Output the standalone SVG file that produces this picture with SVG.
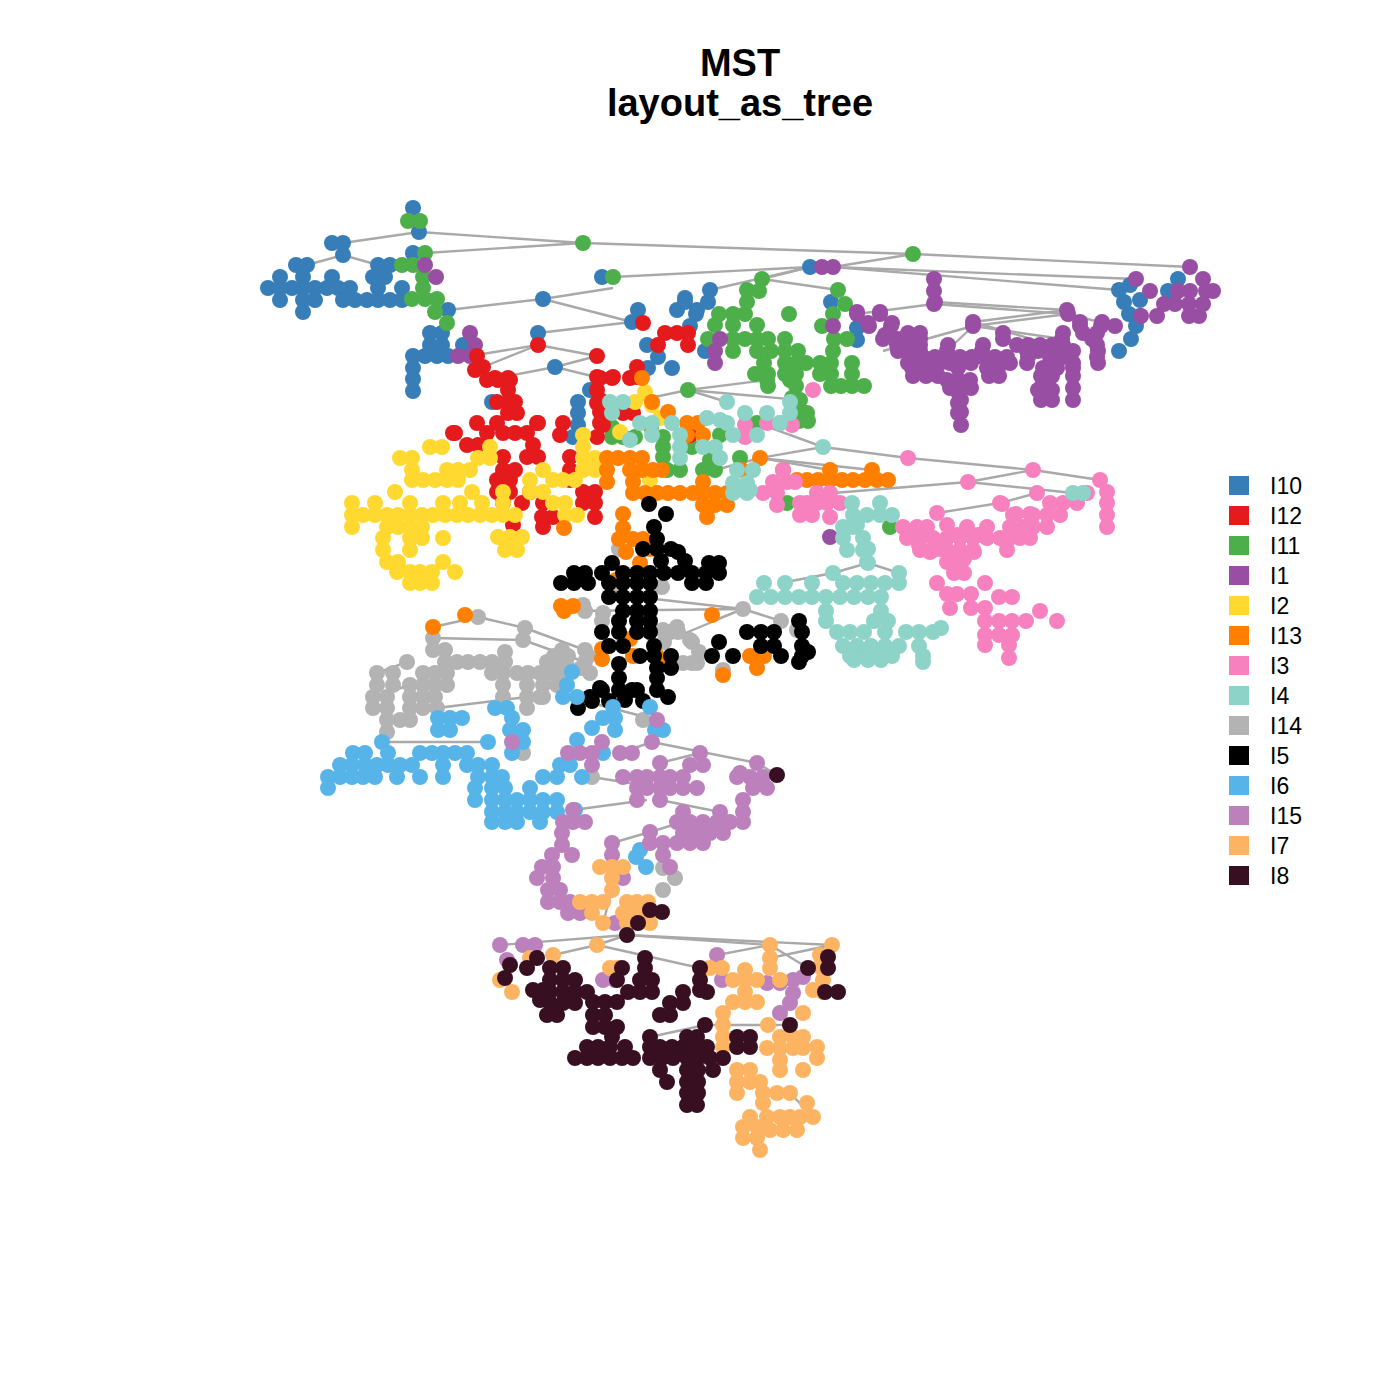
<svg xmlns="http://www.w3.org/2000/svg" width="1400" height="1400" viewBox="0 0 1400 1400">
<style>
text{font-family:"Liberation Sans",Arial,sans-serif;fill:#000}
.t{font-weight:bold;font-size:38px;text-anchor:middle}
.lg{font-size:23px}
#edges line{stroke:#A9A9A9;stroke-width:2.4}
circle{r:8px}
#I10 circle{fill:#377EB8}#I12 circle{fill:#E41A1C}#I11 circle{fill:#4DAF4A}#I1 circle{fill:#984EA3}
#I2 circle{fill:#FFD92F}#I13 circle{fill:#FF7F00}#I3 circle{fill:#F781BF}#I4 circle{fill:#8DD3C7}
#I14 circle{fill:#B3B3B3}#I5 circle{fill:#000}#I6 circle{fill:#56B4E9}#I15 circle{fill:#BC80BD}
#I7 circle{fill:#FDB462}#I8 circle{fill:#380F20}
</style>
<rect width="1400" height="1400" fill="#fff"/>
<text class="t" x="740" y="76">MST</text>
<text class="t" x="740" y="116">layout_as_tree</text>
<g id="edges">
<line x1="343" y1="243" x2="419" y2="232"/><line x1="419" y1="232" x2="583" y2="243"/><line x1="583" y1="243" x2="913" y2="254"/>
<line x1="913" y1="254" x2="1190" y2="267"/><line x1="425" y1="253" x2="583" y2="243"/><line x1="613" y1="277" x2="810" y2="267"/>
<line x1="913" y1="254" x2="833" y2="267"/><line x1="833" y1="267" x2="1136" y2="279"/><line x1="833" y1="267" x2="1119" y2="290"/>
<line x1="810" y1="267" x2="762" y2="279"/><line x1="810" y1="267" x2="710" y2="290"/><line x1="762" y1="279" x2="838" y2="290"/>
<line x1="934" y1="304" x2="1068" y2="314"/><line x1="934" y1="304" x2="857" y2="314"/><line x1="1068" y1="314" x2="973" y2="326"/>
<line x1="1068" y1="314" x2="1115" y2="326"/><line x1="973" y1="326" x2="883" y2="351"/><line x1="973" y1="326" x2="1062" y2="339"/>
<line x1="973" y1="326" x2="947" y2="351"/><line x1="343" y1="255" x2="378" y2="265"/><line x1="307" y1="265" x2="343" y2="255"/>
<line x1="543" y1="299" x2="448" y2="310"/><line x1="543" y1="299" x2="613" y2="288"/><line x1="543" y1="299" x2="632" y2="322"/>
<line x1="538" y1="333" x2="632" y2="322"/><line x1="538" y1="345" x2="470" y2="356"/><line x1="538" y1="345" x2="597" y2="356"/>
<line x1="555" y1="367" x2="597" y2="356"/><line x1="555" y1="367" x2="497" y2="378"/><line x1="555" y1="367" x2="600" y2="378"/>
<line x1="688" y1="390" x2="767" y2="380"/><line x1="688" y1="390" x2="727" y2="402"/><line x1="688" y1="390" x2="800" y2="400"/>
<line x1="688" y1="390" x2="640" y2="400"/><line x1="823" y1="447" x2="757" y2="423"/><line x1="823" y1="447" x2="760" y2="458"/>
<line x1="823" y1="447" x2="908" y2="458"/><line x1="908" y1="458" x2="1033" y2="470"/><line x1="1033" y1="470" x2="968" y2="482"/>
<line x1="1033" y1="470" x2="1100" y2="480"/><line x1="968" y1="482" x2="1073" y2="493"/><line x1="968" y1="482" x2="833" y2="493"/>
<line x1="1037" y1="493" x2="1000" y2="503"/><line x1="1000" y1="503" x2="937" y2="513"/><line x1="760" y1="458" x2="872" y2="470"/>
<line x1="760" y1="458" x2="830" y2="470"/><line x1="760" y1="458" x2="715" y2="470"/><line x1="743" y1="609" x2="637" y2="597"/>
<line x1="743" y1="609" x2="712" y2="621"/><line x1="743" y1="609" x2="664" y2="642"/><line x1="743" y1="609" x2="781" y2="621"/>
<line x1="743" y1="609" x2="573" y2="611"/><line x1="833" y1="573" x2="781" y2="583"/><line x1="833" y1="573" x2="868" y2="563"/>
<line x1="868" y1="563" x2="899" y2="573"/><line x1="478" y1="617" x2="433" y2="627"/><line x1="478" y1="617" x2="525" y2="628"/>
<line x1="525" y1="628" x2="585" y2="650"/><line x1="433" y1="638" x2="523" y2="640"/><line x1="407" y1="662" x2="377" y2="673"/>
<line x1="523" y1="640" x2="585" y2="662"/><line x1="387" y1="732" x2="377" y2="742"/><line x1="388" y1="742" x2="488" y2="742"/>
<line x1="652" y1="742" x2="757" y2="763"/><line x1="652" y1="742" x2="620" y2="753"/><line x1="700" y1="753" x2="660" y2="763"/>
<line x1="660" y1="800" x2="720" y2="812"/><line x1="573" y1="810" x2="647" y2="800"/><line x1="612" y1="843" x2="650" y2="832"/>
<line x1="650" y1="832" x2="683" y2="822"/><line x1="627" y1="935" x2="500" y2="945"/><line x1="627" y1="935" x2="832" y2="945"/>
<line x1="627" y1="935" x2="770" y2="945"/><line x1="597" y1="945" x2="627" y2="935"/><line x1="597" y1="945" x2="553" y2="955"/>
<line x1="597" y1="945" x2="700" y2="968"/><line x1="770" y1="945" x2="717" y2="955"/><line x1="770" y1="945" x2="808" y2="968"/>
<line x1="832" y1="945" x2="770" y2="958"/><line x1="705" y1="1025" x2="650" y2="1037"/><line x1="705" y1="1025" x2="768" y2="1025"/>
<line x1="768" y1="1025" x2="790" y2="1025"/><line x1="813" y1="1117" x2="790" y2="1093"/><line x1="603" y1="923" x2="612" y2="890"/>
<line x1="657" y1="720" x2="580" y2="700"/><line x1="592" y1="777" x2="660" y2="788"/><line x1="437" y1="708" x2="527" y2="697"/>
<line x1="373" y1="697" x2="410" y2="685"/><line x1="757" y1="763" x2="777" y2="775"/><line x1="483" y1="367" x2="538" y2="345"/>
<line x1="973" y1="322" x2="1067" y2="310"/><line x1="935" y1="302" x2="1067" y2="310"/><line x1="973" y1="322" x2="1052" y2="345"/>
</g>
<g id="I14">
<circle cx="478" cy="617"/><circle cx="525" cy="628"/><circle cx="433" cy="638"/><circle cx="433" cy="650"/><circle cx="445" cy="650"/><circle cx="523" cy="640"/><circle cx="407" cy="662"/><circle cx="445" cy="662"/><circle cx="457" cy="662"/><circle cx="468" cy="662"/><circle cx="480" cy="662"/><circle cx="492" cy="662"/><circle cx="505" cy="652"/><circle cx="505" cy="662"/><circle cx="547" cy="662"/><circle cx="558" cy="662"/><circle cx="562" cy="650"/><circle cx="585" cy="650"/><circle cx="585" cy="662"/><circle cx="377" cy="673"/><circle cx="393" cy="673"/><circle cx="377" cy="685"/><circle cx="393" cy="685"/><circle cx="410" cy="685"/><circle cx="423" cy="673"/><circle cx="435" cy="673"/><circle cx="447" cy="673"/><circle cx="423" cy="685"/><circle cx="435" cy="685"/><circle cx="447" cy="685"/><circle cx="492" cy="673"/><circle cx="503" cy="673"/><circle cx="517" cy="673"/><circle cx="528" cy="673"/><circle cx="540" cy="673"/><circle cx="552" cy="673"/><circle cx="563" cy="673"/><circle cx="590" cy="673"/><circle cx="373" cy="697"/><circle cx="387" cy="697"/><circle cx="410" cy="697"/><circle cx="423" cy="697"/><circle cx="435" cy="697"/><circle cx="503" cy="685"/><circle cx="527" cy="685"/><circle cx="543" cy="685"/><circle cx="557" cy="685"/><circle cx="503" cy="697"/><circle cx="527" cy="697"/><circle cx="543" cy="697"/><circle cx="373" cy="708"/><circle cx="387" cy="708"/><circle cx="410" cy="708"/><circle cx="423" cy="708"/><circle cx="437" cy="708"/><circle cx="527" cy="708"/><circle cx="387" cy="720"/><circle cx="400" cy="720"/><circle cx="410" cy="720"/><circle cx="387" cy="732"/><circle cx="643" cy="720"/><circle cx="523" cy="753"/><circle cx="592" cy="777"/><circle cx="603" cy="613"/><circle cx="583" cy="605"/><circle cx="677" cy="627"/><circle cx="690" cy="640"/><circle cx="697" cy="663"/><circle cx="683" cy="663"/><circle cx="663" cy="630"/><circle cx="619" cy="549"/><circle cx="662" cy="587"/><circle cx="743" cy="609"/><circle cx="585" cy="611"/><circle cx="602" cy="621"/><circle cx="668" cy="632"/><circle cx="678" cy="632"/><circle cx="664" cy="642"/><circle cx="692" cy="642"/><circle cx="699" cy="652"/><circle cx="692" cy="663"/><circle cx="723" cy="670"/><circle cx="781" cy="621"/><circle cx="554" cy="656"/><circle cx="568" cy="656"/><circle cx="554" cy="668"/><circle cx="568" cy="668"/><circle cx="581" cy="668"/><circle cx="588" cy="656"/><circle cx="663" cy="868"/><circle cx="675" cy="878"/><circle cx="663" cy="890"/><circle cx="613" cy="593"/><circle cx="797" cy="630"/><circle cx="540" cy="697"/>
</g>
<g id="I10">
<circle cx="413" cy="208"/><circle cx="419" cy="232"/><circle cx="332" cy="243"/><circle cx="343" cy="243"/><circle cx="343" cy="255"/><circle cx="296" cy="265"/><circle cx="307" cy="265"/><circle cx="280" cy="277"/><circle cx="303" cy="277"/><circle cx="332" cy="277"/><circle cx="268" cy="288"/><circle cx="280" cy="288"/><circle cx="292" cy="288"/><circle cx="303" cy="288"/><circle cx="315" cy="288"/><circle cx="327" cy="288"/><circle cx="338" cy="288"/><circle cx="350" cy="288"/><circle cx="280" cy="300"/><circle cx="303" cy="300"/><circle cx="315" cy="300"/><circle cx="303" cy="312"/><circle cx="343" cy="300"/><circle cx="355" cy="300"/><circle cx="367" cy="300"/><circle cx="378" cy="300"/><circle cx="390" cy="300"/><circle cx="402" cy="300"/><circle cx="378" cy="265"/><circle cx="390" cy="265"/><circle cx="373" cy="277"/><circle cx="385" cy="277"/><circle cx="378" cy="288"/><circle cx="413" cy="253"/><circle cx="402" cy="288"/><circle cx="602" cy="277"/><circle cx="543" cy="299"/><circle cx="448" cy="310"/><circle cx="430" cy="333"/><circle cx="442" cy="333"/><circle cx="430" cy="345"/><circle cx="442" cy="345"/><circle cx="463" cy="345"/><circle cx="413" cy="356"/><circle cx="425" cy="356"/><circle cx="437" cy="356"/><circle cx="448" cy="356"/><circle cx="413" cy="368"/><circle cx="413" cy="379"/><circle cx="413" cy="391"/><circle cx="538" cy="333"/><circle cx="555" cy="367"/><circle cx="685" cy="298"/><circle cx="677" cy="310"/><circle cx="697" cy="310"/><circle cx="638" cy="310"/><circle cx="632" cy="322"/><circle cx="647" cy="345"/><circle cx="658" cy="357"/><circle cx="648" cy="368"/><circle cx="672" cy="368"/><circle cx="590" cy="390"/><circle cx="578" cy="402"/><circle cx="578" cy="413"/><circle cx="578" cy="425"/><circle cx="573" cy="437"/><circle cx="492" cy="402"/><circle cx="810" cy="267"/><circle cx="710" cy="290"/><circle cx="708" cy="302"/><circle cx="685" cy="302"/><circle cx="696" cy="314"/><circle cx="690" cy="326"/><circle cx="705" cy="351"/><circle cx="831" cy="302"/><circle cx="857" cy="328"/><circle cx="857" cy="340"/><circle cx="1119" cy="290"/><circle cx="1124" cy="302"/><circle cx="1129" cy="314"/><circle cx="1136" cy="326"/><circle cx="1131" cy="339"/><circle cx="1119" cy="351"/><circle cx="1178" cy="279"/><circle cx="1168" cy="291"/><circle cx="1130" cy="285"/><circle cx="1140" cy="300"/><circle cx="1140" cy="316"/>
</g>
<g id="I11">
<circle cx="408" cy="221"/><circle cx="420" cy="221"/><circle cx="583" cy="243"/><circle cx="425" cy="253"/><circle cx="402" cy="265"/><circle cx="413" cy="265"/><circle cx="423" cy="277"/><circle cx="423" cy="288"/><circle cx="412" cy="299"/><circle cx="425" cy="299"/><circle cx="437" cy="299"/><circle cx="435" cy="312"/><circle cx="447" cy="323"/><circle cx="613" cy="277"/><circle cx="688" cy="390"/><circle cx="913" cy="254"/><circle cx="762" cy="279"/><circle cx="747" cy="290"/><circle cx="759" cy="291"/><circle cx="747" cy="302"/><circle cx="745" cy="314"/><circle cx="733" cy="314"/><circle cx="719" cy="314"/><circle cx="715" cy="325"/><circle cx="708" cy="339"/><circle cx="733" cy="325"/><circle cx="757" cy="325"/><circle cx="733" cy="339"/><circle cx="745" cy="339"/><circle cx="757" cy="339"/><circle cx="768" cy="339"/><circle cx="785" cy="339"/><circle cx="733" cy="351"/><circle cx="757" cy="351"/><circle cx="771" cy="351"/><circle cx="785" cy="351"/><circle cx="798" cy="351"/><circle cx="764" cy="363"/><circle cx="785" cy="363"/><circle cx="796" cy="363"/><circle cx="806" cy="363"/><circle cx="820" cy="363"/><circle cx="831" cy="363"/><circle cx="755" cy="374"/><circle cx="768" cy="374"/><circle cx="785" cy="374"/><circle cx="796" cy="374"/><circle cx="820" cy="374"/><circle cx="831" cy="374"/><circle cx="852" cy="363"/><circle cx="852" cy="374"/><circle cx="768" cy="386"/><circle cx="796" cy="386"/><circle cx="831" cy="386"/><circle cx="841" cy="386"/><circle cx="852" cy="386"/><circle cx="864" cy="386"/><circle cx="789" cy="314"/><circle cx="822" cy="326"/><circle cx="838" cy="290"/><circle cx="845" cy="304"/><circle cx="833" cy="314"/><circle cx="834" cy="339"/><circle cx="847" cy="339"/><circle cx="833" cy="351"/><circle cx="792" cy="398"/><circle cx="799" cy="409"/><circle cx="799" cy="421"/><circle cx="808" cy="421"/><circle cx="767" cy="380"/><circle cx="790" cy="380"/><circle cx="800" cy="400"/><circle cx="807" cy="413"/><circle cx="612" cy="427"/><circle cx="623" cy="437"/><circle cx="635" cy="437"/><circle cx="612" cy="437"/><circle cx="663" cy="437"/><circle cx="663" cy="447"/><circle cx="663" cy="457"/><circle cx="667" cy="470"/><circle cx="692" cy="447"/><circle cx="710" cy="460"/><circle cx="703" cy="470"/><circle cx="715" cy="470"/><circle cx="740" cy="458"/><circle cx="757" cy="423"/><circle cx="720" cy="435"/><circle cx="890" cy="527"/><circle cx="787" cy="503"/><circle cx="651" cy="427"/><circle cx="680" cy="470"/>
</g>
<g id="I1">
<circle cx="425" cy="265"/><circle cx="436" cy="277"/><circle cx="470" cy="333"/><circle cx="475" cy="345"/><circle cx="458" cy="356"/><circle cx="470" cy="356"/><circle cx="822" cy="267"/><circle cx="833" cy="267"/><circle cx="934" cy="279"/><circle cx="934" cy="291"/><circle cx="934" cy="304"/><circle cx="857" cy="314"/><circle cx="880" cy="314"/><circle cx="869" cy="326"/><circle cx="891" cy="326"/><circle cx="883" cy="339"/><circle cx="898" cy="339"/><circle cx="908" cy="339"/><circle cx="920" cy="339"/><circle cx="898" cy="351"/><circle cx="908" cy="351"/><circle cx="920" cy="351"/><circle cx="908" cy="363"/><circle cx="920" cy="363"/><circle cx="913" cy="376"/><circle cx="926" cy="376"/><circle cx="938" cy="376"/><circle cx="947" cy="351"/><circle cx="940" cy="363"/><circle cx="950" cy="363"/><circle cx="961" cy="363"/><circle cx="971" cy="363"/><circle cx="982" cy="351"/><circle cx="989" cy="363"/><circle cx="999" cy="363"/><circle cx="1010" cy="363"/><circle cx="989" cy="376"/><circle cx="999" cy="376"/><circle cx="950" cy="388"/><circle cx="961" cy="388"/><circle cx="971" cy="388"/><circle cx="961" cy="400"/><circle cx="961" cy="412"/><circle cx="961" cy="425"/><circle cx="973" cy="326"/><circle cx="1003" cy="339"/><circle cx="1027" cy="351"/><circle cx="1038" cy="351"/><circle cx="1027" cy="363"/><circle cx="1052" cy="351"/><circle cx="1062" cy="339"/><circle cx="1068" cy="314"/><circle cx="1080" cy="326"/><circle cx="1092" cy="339"/><circle cx="1101" cy="326"/><circle cx="1115" cy="326"/><circle cx="1098" cy="351"/><circle cx="1098" cy="363"/><circle cx="1052" cy="363"/><circle cx="1041" cy="376"/><circle cx="1052" cy="376"/><circle cx="1073" cy="351"/><circle cx="1073" cy="363"/><circle cx="1073" cy="376"/><circle cx="1073" cy="388"/><circle cx="1073" cy="400"/><circle cx="1041" cy="388"/><circle cx="1041" cy="400"/><circle cx="1052" cy="400"/><circle cx="1190" cy="267"/><circle cx="1136" cy="279"/><circle cx="1150" cy="291"/><circle cx="1203" cy="279"/><circle cx="1190" cy="291"/><circle cx="1206" cy="291"/><circle cx="1178" cy="291"/><circle cx="1164" cy="304"/><circle cx="1175" cy="304"/><circle cx="1189" cy="304"/><circle cx="1203" cy="304"/><circle cx="1157" cy="316"/><circle cx="1189" cy="316"/><circle cx="1199" cy="316"/><circle cx="1141" cy="316"/><circle cx="1213" cy="291"/><circle cx="720" cy="339"/><circle cx="715" cy="351"/><circle cx="715" cy="363"/><circle cx="830" cy="537"/><circle cx="833" cy="326"/>
<circle cx="857" cy="312"/><circle cx="880" cy="312"/><circle cx="868" cy="323"/><circle cx="892" cy="323"/><circle cx="885" cy="335"/><circle cx="897" cy="345"/><circle cx="908" cy="333"/><circle cx="920" cy="333"/><circle cx="908" cy="345"/><circle cx="920" cy="345"/><circle cx="912" cy="357"/><circle cx="923" cy="357"/><circle cx="912" cy="368"/><circle cx="923" cy="368"/><circle cx="935" cy="368"/><circle cx="935" cy="357"/><circle cx="948" cy="345"/><circle cx="948" cy="357"/><circle cx="960" cy="357"/><circle cx="972" cy="357"/><circle cx="983" cy="345"/><circle cx="983" cy="357"/><circle cx="995" cy="357"/><circle cx="1007" cy="357"/><circle cx="958" cy="368"/><circle cx="947" cy="380"/><circle cx="958" cy="380"/><circle cx="970" cy="380"/><circle cx="958" cy="392"/><circle cx="958" cy="403"/><circle cx="958" cy="413"/><circle cx="987" cy="368"/><circle cx="998" cy="368"/><circle cx="1003" cy="333"/><circle cx="1017" cy="345"/><circle cx="1028" cy="345"/><circle cx="1040" cy="345"/><circle cx="1052" cy="345"/><circle cx="1063" cy="333"/><circle cx="1063" cy="345"/><circle cx="1028" cy="357"/><circle cx="1050" cy="357"/><circle cx="1063" cy="357"/><circle cx="1043" cy="368"/><circle cx="1057" cy="368"/><circle cx="1073" cy="368"/><circle cx="1043" cy="380"/><circle cx="1038" cy="390"/><circle cx="1052" cy="390"/><circle cx="973" cy="322"/><circle cx="1067" cy="310"/><circle cx="935" cy="302"/><circle cx="1080" cy="322"/><circle cx="1097" cy="333"/><circle cx="1097" cy="345"/><circle cx="1097" cy="357"/><circle cx="1102" cy="322"/><circle cx="1083" cy="333"/>
</g>
<g id="I12">
<circle cx="643" cy="323"/><circle cx="665" cy="333"/><circle cx="677" cy="333"/><circle cx="688" cy="333"/><circle cx="658" cy="345"/><circle cx="688" cy="345"/><circle cx="538" cy="345"/><circle cx="597" cy="356"/><circle cx="477" cy="356"/><circle cx="483" cy="367"/><circle cx="495" cy="378"/><circle cx="508" cy="378"/><circle cx="508" cy="390"/><circle cx="508" cy="402"/><circle cx="508" cy="413"/><circle cx="497" cy="402"/><circle cx="600" cy="378"/><circle cx="612" cy="378"/><circle cx="637" cy="367"/><circle cx="630" cy="378"/><circle cx="477" cy="423"/><circle cx="453" cy="433"/><circle cx="497" cy="423"/><circle cx="537" cy="423"/><circle cx="563" cy="423"/><circle cx="600" cy="400"/><circle cx="600" cy="412"/><circle cx="600" cy="423"/><circle cx="475" cy="370"/><circle cx="487" cy="380"/><circle cx="498" cy="380"/><circle cx="510" cy="380"/><circle cx="515" cy="402"/><circle cx="517" cy="413"/><circle cx="487" cy="433"/><circle cx="455" cy="433"/><circle cx="467" cy="445"/><circle cx="478" cy="445"/><circle cx="503" cy="433"/><circle cx="515" cy="433"/><circle cx="527" cy="433"/><circle cx="538" cy="423"/><circle cx="533" cy="445"/><circle cx="527" cy="457"/><circle cx="538" cy="457"/><circle cx="503" cy="457"/><circle cx="503" cy="470"/><circle cx="515" cy="470"/><circle cx="497" cy="480"/><circle cx="510" cy="480"/><circle cx="497" cy="492"/><circle cx="510" cy="492"/><circle cx="503" cy="503"/><circle cx="522" cy="503"/><circle cx="530" cy="492"/><circle cx="543" cy="503"/><circle cx="542" cy="517"/><circle cx="553" cy="517"/><circle cx="543" cy="527"/><circle cx="560" cy="435"/><circle cx="570" cy="457"/><circle cx="570" cy="470"/><circle cx="570" cy="480"/><circle cx="583" cy="492"/><circle cx="595" cy="492"/><circle cx="595" cy="503"/><circle cx="595" cy="517"/><circle cx="583" cy="503"/><circle cx="597" cy="377"/><circle cx="613" cy="377"/><circle cx="597" cy="390"/><circle cx="597" cy="403"/><circle cx="607" cy="403"/><circle cx="623" cy="413"/><circle cx="633" cy="413"/><circle cx="637" cy="377"/><circle cx="603" cy="425"/><circle cx="597" cy="437"/><circle cx="513" cy="525"/><circle cx="690" cy="435"/>
</g>
<g id="I2">
<circle cx="430" cy="447"/><circle cx="442" cy="447"/><circle cx="400" cy="458"/><circle cx="412" cy="458"/><circle cx="412" cy="470"/><circle cx="423" cy="480"/><circle cx="412" cy="480"/><circle cx="435" cy="480"/><circle cx="447" cy="470"/><circle cx="458" cy="470"/><circle cx="447" cy="480"/><circle cx="458" cy="480"/><circle cx="470" cy="470"/><circle cx="478" cy="458"/><circle cx="490" cy="447"/><circle cx="490" cy="458"/><circle cx="395" cy="492"/><circle cx="352" cy="503"/><circle cx="375" cy="503"/><circle cx="352" cy="515"/><circle cx="363" cy="515"/><circle cx="375" cy="515"/><circle cx="352" cy="527"/><circle cx="387" cy="515"/><circle cx="398" cy="515"/><circle cx="410" cy="515"/><circle cx="422" cy="515"/><circle cx="433" cy="515"/><circle cx="445" cy="515"/><circle cx="457" cy="515"/><circle cx="468" cy="515"/><circle cx="480" cy="515"/><circle cx="492" cy="515"/><circle cx="503" cy="515"/><circle cx="515" cy="515"/><circle cx="410" cy="503"/><circle cx="443" cy="503"/><circle cx="460" cy="503"/><circle cx="472" cy="492"/><circle cx="482" cy="503"/><circle cx="503" cy="492"/><circle cx="503" cy="503"/><circle cx="387" cy="527"/><circle cx="398" cy="527"/><circle cx="410" cy="527"/><circle cx="422" cy="527"/><circle cx="383" cy="538"/><circle cx="410" cy="538"/><circle cx="422" cy="538"/><circle cx="443" cy="538"/><circle cx="383" cy="550"/><circle cx="410" cy="550"/><circle cx="387" cy="562"/><circle cx="398" cy="562"/><circle cx="397" cy="572"/><circle cx="410" cy="572"/><circle cx="420" cy="572"/><circle cx="432" cy="572"/><circle cx="443" cy="562"/><circle cx="455" cy="572"/><circle cx="410" cy="583"/><circle cx="420" cy="583"/><circle cx="432" cy="583"/><circle cx="498" cy="537"/><circle cx="510" cy="537"/><circle cx="522" cy="537"/><circle cx="505" cy="550"/><circle cx="517" cy="550"/><circle cx="543" cy="470"/><circle cx="530" cy="480"/><circle cx="530" cy="492"/><circle cx="543" cy="492"/><circle cx="553" cy="480"/><circle cx="563" cy="480"/><circle cx="575" cy="480"/><circle cx="553" cy="503"/><circle cx="565" cy="503"/><circle cx="565" cy="515"/><circle cx="577" cy="515"/><circle cx="583" cy="435"/><circle cx="583" cy="447"/><circle cx="583" cy="458"/><circle cx="595" cy="458"/><circle cx="583" cy="470"/><circle cx="595" cy="470"/><circle cx="645" cy="392"/><circle cx="652" cy="405"/><circle cx="635" cy="402"/><circle cx="620" cy="432"/><circle cx="660" cy="418"/><circle cx="650" cy="480"/>
</g>
<g id="I13">
<circle cx="642" cy="378"/><circle cx="652" cy="402"/><circle cx="668" cy="412"/><circle cx="687" cy="423"/><circle cx="698" cy="423"/><circle cx="703" cy="435"/><circle cx="687" cy="435"/><circle cx="760" cy="458"/><circle cx="830" cy="470"/><circle cx="872" cy="470"/><circle cx="607" cy="458"/><circle cx="618" cy="458"/><circle cx="630" cy="458"/><circle cx="642" cy="458"/><circle cx="607" cy="470"/><circle cx="607" cy="482"/><circle cx="630" cy="470"/><circle cx="642" cy="470"/><circle cx="653" cy="470"/><circle cx="662" cy="470"/><circle cx="633" cy="482"/><circle cx="633" cy="493"/><circle cx="645" cy="493"/><circle cx="657" cy="493"/><circle cx="668" cy="493"/><circle cx="680" cy="493"/><circle cx="693" cy="493"/><circle cx="703" cy="482"/><circle cx="703" cy="493"/><circle cx="715" cy="493"/><circle cx="727" cy="493"/><circle cx="727" cy="505"/><circle cx="715" cy="505"/><circle cx="703" cy="505"/><circle cx="707" cy="517"/><circle cx="783" cy="470"/><circle cx="797" cy="480"/><circle cx="807" cy="480"/><circle cx="818" cy="480"/><circle cx="830" cy="480"/><circle cx="842" cy="480"/><circle cx="853" cy="480"/><circle cx="865" cy="480"/><circle cx="877" cy="480"/><circle cx="888" cy="480"/><circle cx="623" cy="514"/><circle cx="623" cy="528"/><circle cx="619" cy="539"/><circle cx="633" cy="539"/><circle cx="626" cy="552"/><circle cx="640" cy="563"/><circle cx="650" cy="549"/><circle cx="643" cy="539"/><circle cx="564" cy="528"/><circle cx="564" cy="611"/><circle cx="561" cy="606"/><circle cx="573" cy="606"/><circle cx="712" cy="615"/><circle cx="723" cy="675"/><circle cx="757" cy="668"/><circle cx="750" cy="656"/><circle cx="764" cy="656"/><circle cx="602" cy="649"/><circle cx="602" cy="659"/><circle cx="633" cy="656"/><circle cx="668" cy="659"/><circle cx="616" cy="580"/><circle cx="657" cy="656"/><circle cx="630" cy="639"/><circle cx="433" cy="627"/><circle cx="465" cy="615"/><circle cx="742" cy="470"/><circle cx="650" cy="425"/>
</g>
<g id="I3">
<circle cx="813" cy="390"/><circle cx="745" cy="425"/><circle cx="745" cy="437"/><circle cx="767" cy="423"/><circle cx="780" cy="423"/><circle cx="792" cy="425"/><circle cx="908" cy="458"/><circle cx="1033" cy="470"/><circle cx="968" cy="482"/><circle cx="1100" cy="480"/><circle cx="1107" cy="492"/><circle cx="1107" cy="503"/><circle cx="1107" cy="515"/><circle cx="1107" cy="527"/><circle cx="783" cy="470"/><circle cx="773" cy="482"/><circle cx="787" cy="482"/><circle cx="795" cy="482"/><circle cx="763" cy="493"/><circle cx="777" cy="493"/><circle cx="777" cy="505"/><circle cx="800" cy="503"/><circle cx="807" cy="503"/><circle cx="817" cy="493"/><circle cx="830" cy="493"/><circle cx="817" cy="503"/><circle cx="827" cy="503"/><circle cx="800" cy="515"/><circle cx="812" cy="515"/><circle cx="830" cy="517"/><circle cx="840" cy="503"/><circle cx="1037" cy="493"/><circle cx="1050" cy="503"/><circle cx="1063" cy="503"/><circle cx="1077" cy="503"/><circle cx="1087" cy="493"/><circle cx="1000" cy="503"/><circle cx="1013" cy="515"/><circle cx="1033" cy="515"/><circle cx="1047" cy="515"/><circle cx="1060" cy="515"/><circle cx="1010" cy="527"/><circle cx="1023" cy="527"/><circle cx="1033" cy="527"/><circle cx="1047" cy="527"/><circle cx="1000" cy="538"/><circle cx="1010" cy="538"/><circle cx="1020" cy="538"/><circle cx="1030" cy="538"/><circle cx="937" cy="513"/><circle cx="947" cy="525"/><circle cx="903" cy="527"/><circle cx="917" cy="527"/><circle cx="927" cy="527"/><circle cx="907" cy="538"/><circle cx="920" cy="538"/><circle cx="933" cy="538"/><circle cx="947" cy="538"/><circle cx="960" cy="538"/><circle cx="973" cy="538"/><circle cx="987" cy="538"/><circle cx="920" cy="550"/><circle cx="933" cy="550"/><circle cx="947" cy="550"/><circle cx="960" cy="550"/><circle cx="973" cy="550"/><circle cx="1007" cy="550"/><circle cx="947" cy="562"/><circle cx="960" cy="562"/><circle cx="967" cy="527"/><circle cx="987" cy="527"/><circle cx="957" cy="535"/><circle cx="978" cy="535"/><circle cx="1002" cy="504"/><circle cx="1016" cy="514"/><circle cx="1030" cy="514"/><circle cx="940" cy="549"/><circle cx="950" cy="559"/><circle cx="964" cy="559"/><circle cx="974" cy="552"/><circle cx="954" cy="573"/><circle cx="964" cy="573"/><circle cx="937" cy="583"/><circle cx="947" cy="594"/><circle cx="957" cy="594"/><circle cx="971" cy="594"/><circle cx="985" cy="583"/><circle cx="999" cy="597"/><circle cx="1012" cy="597"/><circle cx="950" cy="608"/><circle cx="971" cy="608"/><circle cx="985" cy="608"/><circle cx="985" cy="621"/><circle cx="999" cy="621"/><circle cx="1012" cy="621"/><circle cx="1026" cy="621"/><circle cx="1040" cy="611"/><circle cx="1057" cy="621"/><circle cx="985" cy="635"/><circle cx="999" cy="635"/><circle cx="1012" cy="635"/><circle cx="985" cy="645"/><circle cx="1009" cy="645"/><circle cx="1009" cy="658"/><circle cx="912" cy="532"/><circle cx="919" cy="545"/><circle cx="930" cy="552"/><circle cx="1006" cy="542"/>
</g>
<g id="I4">
<circle cx="727" cy="402"/><circle cx="745" cy="413"/><circle cx="767" cy="413"/><circle cx="790" cy="402"/><circle cx="790" cy="413"/><circle cx="780" cy="423"/><circle cx="727" cy="423"/><circle cx="733" cy="435"/><circle cx="757" cy="435"/><circle cx="823" cy="447"/><circle cx="623" cy="402"/><circle cx="612" cy="413"/><circle cx="640" cy="423"/><circle cx="652" cy="423"/><circle cx="652" cy="435"/><circle cx="672" cy="423"/><circle cx="680" cy="435"/><circle cx="680" cy="447"/><circle cx="680" cy="458"/><circle cx="703" cy="447"/><circle cx="715" cy="447"/><circle cx="720" cy="458"/><circle cx="737" cy="470"/><circle cx="753" cy="470"/><circle cx="733" cy="483"/><circle cx="747" cy="483"/><circle cx="733" cy="493"/><circle cx="747" cy="493"/><circle cx="1073" cy="493"/><circle cx="1083" cy="493"/><circle cx="852" cy="503"/><circle cx="880" cy="503"/><circle cx="853" cy="515"/><circle cx="867" cy="515"/><circle cx="880" cy="515"/><circle cx="892" cy="515"/><circle cx="843" cy="527"/><circle cx="853" cy="527"/><circle cx="843" cy="538"/><circle cx="863" cy="538"/><circle cx="847" cy="550"/><circle cx="863" cy="550"/><circle cx="867" cy="562"/><circle cx="737" cy="490"/><circle cx="750" cy="490"/><circle cx="857" cy="525"/><circle cx="868" cy="549"/><circle cx="868" cy="563"/><circle cx="833" cy="573"/><circle cx="899" cy="573"/><circle cx="764" cy="583"/><circle cx="785" cy="583"/><circle cx="812" cy="583"/><circle cx="843" cy="583"/><circle cx="857" cy="583"/><circle cx="871" cy="583"/><circle cx="885" cy="583"/><circle cx="899" cy="583"/><circle cx="757" cy="597"/><circle cx="771" cy="597"/><circle cx="785" cy="597"/><circle cx="799" cy="597"/><circle cx="812" cy="597"/><circle cx="826" cy="597"/><circle cx="840" cy="597"/><circle cx="854" cy="597"/><circle cx="868" cy="597"/><circle cx="881" cy="597"/><circle cx="826" cy="611"/><circle cx="881" cy="611"/><circle cx="826" cy="621"/><circle cx="874" cy="621"/><circle cx="888" cy="621"/><circle cx="837" cy="632"/><circle cx="850" cy="632"/><circle cx="864" cy="632"/><circle cx="885" cy="632"/><circle cx="906" cy="632"/><circle cx="919" cy="632"/><circle cx="933" cy="632"/><circle cx="941" cy="628"/><circle cx="843" cy="646"/><circle cx="857" cy="646"/><circle cx="871" cy="646"/><circle cx="885" cy="646"/><circle cx="899" cy="646"/><circle cx="919" cy="646"/><circle cx="850" cy="656"/><circle cx="864" cy="656"/><circle cx="878" cy="656"/><circle cx="892" cy="656"/><circle cx="923" cy="656"/><circle cx="854" cy="660"/><circle cx="868" cy="660"/><circle cx="881" cy="660"/><circle cx="923" cy="662"/><circle cx="610" cy="402"/><circle cx="630" cy="440"/><circle cx="720" cy="420"/><circle cx="707" cy="418"/>
</g>
<g id="I5">
<circle cx="649" cy="504"/><circle cx="666" cy="514"/><circle cx="654" cy="527"/><circle cx="657" cy="539"/><circle cx="643" cy="549"/><circle cx="657" cy="549"/><circle cx="671" cy="549"/><circle cx="678" cy="552"/><circle cx="661" cy="561"/><circle cx="685" cy="561"/><circle cx="612" cy="563"/><circle cx="709" cy="563"/><circle cx="719" cy="563"/><circle cx="574" cy="573"/><circle cx="585" cy="573"/><circle cx="602" cy="573"/><circle cx="623" cy="573"/><circle cx="637" cy="573"/><circle cx="650" cy="573"/><circle cx="664" cy="573"/><circle cx="678" cy="573"/><circle cx="692" cy="573"/><circle cx="706" cy="573"/><circle cx="719" cy="573"/><circle cx="561" cy="583"/><circle cx="574" cy="583"/><circle cx="588" cy="583"/><circle cx="609" cy="583"/><circle cx="623" cy="583"/><circle cx="637" cy="583"/><circle cx="650" cy="583"/><circle cx="692" cy="583"/><circle cx="706" cy="583"/><circle cx="609" cy="597"/><circle cx="623" cy="597"/><circle cx="637" cy="597"/><circle cx="650" cy="597"/><circle cx="623" cy="611"/><circle cx="637" cy="611"/><circle cx="650" cy="611"/><circle cx="619" cy="621"/><circle cx="637" cy="621"/><circle cx="650" cy="621"/><circle cx="602" cy="632"/><circle cx="619" cy="632"/><circle cx="637" cy="632"/><circle cx="650" cy="632"/><circle cx="609" cy="646"/><circle cx="623" cy="646"/><circle cx="654" cy="646"/><circle cx="654" cy="656"/><circle cx="640" cy="656"/><circle cx="671" cy="656"/><circle cx="671" cy="668"/><circle cx="657" cy="668"/><circle cx="619" cy="664"/><circle cx="619" cy="678"/><circle cx="657" cy="678"/><circle cx="602" cy="690"/><circle cx="619" cy="690"/><circle cx="637" cy="690"/><circle cx="657" cy="690"/><circle cx="592" cy="701"/><circle cx="609" cy="701"/><circle cx="643" cy="701"/><circle cx="668" cy="697"/><circle cx="578" cy="708"/><circle cx="590" cy="697"/><circle cx="600" cy="688"/><circle cx="625" cy="700"/><circle cx="632" cy="690"/><circle cx="799" cy="621"/><circle cx="802" cy="632"/><circle cx="747" cy="632"/><circle cx="761" cy="632"/><circle cx="774" cy="632"/><circle cx="761" cy="646"/><circle cx="774" cy="646"/><circle cx="719" cy="642"/><circle cx="712" cy="656"/><circle cx="733" cy="656"/><circle cx="781" cy="656"/><circle cx="802" cy="646"/><circle cx="802" cy="656"/><circle cx="799" cy="662"/><circle cx="808" cy="652"/>
</g>
<g id="I6">
<circle cx="572" cy="672"/><circle cx="567" cy="685"/><circle cx="563" cy="697"/><circle cx="577" cy="697"/><circle cx="495" cy="708"/><circle cx="507" cy="708"/><circle cx="438" cy="718"/><circle cx="450" cy="718"/><circle cx="462" cy="718"/><circle cx="438" cy="730"/><circle cx="450" cy="730"/><circle cx="512" cy="718"/><circle cx="510" cy="730"/><circle cx="523" cy="730"/><circle cx="517" cy="742"/><circle cx="523" cy="742"/><circle cx="512" cy="753"/><circle cx="382" cy="742"/><circle cx="488" cy="742"/><circle cx="353" cy="753"/><circle cx="365" cy="753"/><circle cx="388" cy="753"/><circle cx="420" cy="753"/><circle cx="432" cy="753"/><circle cx="443" cy="753"/><circle cx="455" cy="753"/><circle cx="467" cy="753"/><circle cx="340" cy="765"/><circle cx="352" cy="765"/><circle cx="365" cy="765"/><circle cx="377" cy="765"/><circle cx="388" cy="765"/><circle cx="400" cy="765"/><circle cx="412" cy="765"/><circle cx="443" cy="765"/><circle cx="467" cy="765"/><circle cx="478" cy="765"/><circle cx="492" cy="765"/><circle cx="328" cy="777"/><circle cx="340" cy="777"/><circle cx="352" cy="777"/><circle cx="363" cy="777"/><circle cx="375" cy="777"/><circle cx="397" cy="777"/><circle cx="420" cy="777"/><circle cx="443" cy="777"/><circle cx="478" cy="777"/><circle cx="492" cy="777"/><circle cx="502" cy="777"/><circle cx="328" cy="788"/><circle cx="475" cy="788"/><circle cx="492" cy="788"/><circle cx="505" cy="788"/><circle cx="475" cy="800"/><circle cx="492" cy="800"/><circle cx="505" cy="800"/><circle cx="517" cy="800"/><circle cx="492" cy="812"/><circle cx="505" cy="812"/><circle cx="517" cy="812"/><circle cx="492" cy="822"/><circle cx="505" cy="822"/><circle cx="517" cy="822"/><circle cx="530" cy="788"/><circle cx="543" cy="777"/><circle cx="557" cy="777"/><circle cx="530" cy="800"/><circle cx="543" cy="800"/><circle cx="557" cy="800"/><circle cx="530" cy="812"/><circle cx="543" cy="812"/><circle cx="557" cy="812"/><circle cx="540" cy="822"/><circle cx="560" cy="765"/><circle cx="577" cy="740"/><circle cx="592" cy="728"/><circle cx="603" cy="718"/><circle cx="613" cy="707"/><circle cx="615" cy="718"/><circle cx="615" cy="730"/><circle cx="603" cy="753"/><circle cx="650" cy="707"/><circle cx="655" cy="730"/><circle cx="663" cy="730"/><circle cx="582" cy="777"/><circle cx="570" cy="765"/><circle cx="636" cy="857"/><circle cx="646" cy="867"/><circle cx="640" cy="850"/><circle cx="575" cy="810"/>
</g>
<g id="I15">
<circle cx="657" cy="720"/><circle cx="652" cy="742"/><circle cx="512" cy="742"/><circle cx="602" cy="742"/><circle cx="568" cy="753"/><circle cx="580" cy="753"/><circle cx="592" cy="753"/><circle cx="592" cy="765"/><circle cx="620" cy="753"/><circle cx="632" cy="753"/><circle cx="660" cy="763"/><circle cx="623" cy="777"/><circle cx="637" cy="777"/><circle cx="647" cy="777"/><circle cx="660" cy="777"/><circle cx="670" cy="777"/><circle cx="683" cy="777"/><circle cx="700" cy="753"/><circle cx="703" cy="765"/><circle cx="690" cy="765"/><circle cx="637" cy="788"/><circle cx="647" cy="788"/><circle cx="660" cy="788"/><circle cx="670" cy="788"/><circle cx="683" cy="788"/><circle cx="697" cy="788"/><circle cx="637" cy="800"/><circle cx="660" cy="800"/><circle cx="757" cy="763"/><circle cx="737" cy="777"/><circle cx="750" cy="777"/><circle cx="763" cy="777"/><circle cx="753" cy="788"/><circle cx="767" cy="788"/><circle cx="743" cy="800"/><circle cx="743" cy="812"/><circle cx="720" cy="812"/><circle cx="683" cy="812"/><circle cx="677" cy="822"/><circle cx="690" cy="822"/><circle cx="703" cy="822"/><circle cx="717" cy="822"/><circle cx="730" cy="822"/><circle cx="743" cy="822"/><circle cx="683" cy="833"/><circle cx="697" cy="833"/><circle cx="710" cy="833"/><circle cx="723" cy="833"/><circle cx="650" cy="832"/><circle cx="650" cy="843"/><circle cx="663" cy="843"/><circle cx="677" cy="843"/><circle cx="690" cy="843"/><circle cx="703" cy="843"/><circle cx="663" cy="855"/><circle cx="670" cy="867"/><circle cx="573" cy="810"/><circle cx="563" cy="822"/><circle cx="573" cy="822"/><circle cx="585" cy="822"/><circle cx="562" cy="833"/><circle cx="562" cy="845"/><circle cx="552" cy="855"/><circle cx="572" cy="855"/><circle cx="542" cy="867"/><circle cx="553" cy="867"/><circle cx="553" cy="878"/><circle cx="537" cy="878"/><circle cx="548" cy="890"/><circle cx="560" cy="890"/><circle cx="548" cy="902"/><circle cx="560" cy="902"/><circle cx="570" cy="902"/><circle cx="568" cy="913"/><circle cx="580" cy="913"/><circle cx="612" cy="843"/><circle cx="612" cy="855"/><circle cx="623" cy="878"/><circle cx="615" cy="923"/><circle cx="500" cy="945"/><circle cx="523" cy="945"/><circle cx="535" cy="945"/><circle cx="603" cy="980"/><circle cx="615" cy="980"/><circle cx="717" cy="955"/><circle cx="722" cy="980"/><circle cx="767" cy="983"/><circle cx="780" cy="983"/><circle cx="793" cy="980"/><circle cx="803" cy="977"/><circle cx="793" cy="993"/><circle cx="790" cy="1003"/><circle cx="780" cy="1013"/><circle cx="507" cy="960"/><circle cx="740" cy="773"/>
</g>
<g id="I7">
<circle cx="600" cy="867"/><circle cx="612" cy="867"/><circle cx="623" cy="867"/><circle cx="612" cy="878"/><circle cx="612" cy="890"/><circle cx="580" cy="902"/><circle cx="592" cy="902"/><circle cx="603" cy="902"/><circle cx="592" cy="913"/><circle cx="603" cy="923"/><circle cx="627" cy="902"/><circle cx="637" cy="902"/><circle cx="648" cy="902"/><circle cx="623" cy="913"/><circle cx="637" cy="913"/><circle cx="650" cy="913"/><circle cx="627" cy="923"/><circle cx="650" cy="923"/><circle cx="597" cy="945"/><circle cx="553" cy="955"/><circle cx="610" cy="968"/><circle cx="770" cy="945"/><circle cx="832" cy="945"/><circle cx="770" cy="958"/><circle cx="770" cy="968"/><circle cx="780" cy="980"/><circle cx="733" cy="980"/><circle cx="745" cy="970"/><circle cx="745" cy="980"/><circle cx="757" cy="980"/><circle cx="745" cy="992"/><circle cx="745" cy="1002"/><circle cx="733" cy="1002"/><circle cx="757" cy="1002"/><circle cx="723" cy="1013"/><circle cx="723" cy="1025"/><circle cx="723" cy="1037"/><circle cx="723" cy="1047"/><circle cx="768" cy="1025"/><circle cx="803" cy="1013"/><circle cx="780" cy="1037"/><circle cx="793" cy="1037"/><circle cx="803" cy="1037"/><circle cx="817" cy="1047"/><circle cx="767" cy="1048"/><circle cx="780" cy="1048"/><circle cx="793" cy="1048"/><circle cx="803" cy="1048"/><circle cx="817" cy="1058"/><circle cx="803" cy="1070"/><circle cx="780" cy="1060"/><circle cx="780" cy="1070"/><circle cx="737" cy="1070"/><circle cx="737" cy="1082"/><circle cx="737" cy="1093"/><circle cx="750" cy="1070"/><circle cx="750" cy="1082"/><circle cx="760" cy="1082"/><circle cx="763" cy="1093"/><circle cx="763" cy="1103"/><circle cx="777" cy="1093"/><circle cx="790" cy="1093"/><circle cx="807" cy="1103"/><circle cx="813" cy="1117"/><circle cx="800" cy="1117"/><circle cx="790" cy="1117"/><circle cx="780" cy="1117"/><circle cx="767" cy="1117"/><circle cx="750" cy="1117"/><circle cx="743" cy="1127"/><circle cx="743" cy="1138"/><circle cx="757" cy="1127"/><circle cx="757" cy="1138"/><circle cx="770" cy="1130"/><circle cx="783" cy="1130"/><circle cx="797" cy="1130"/><circle cx="760" cy="1150"/><circle cx="820" cy="955"/><circle cx="820" cy="967"/><circle cx="813" cy="990"/><circle cx="823" cy="980"/><circle cx="823" cy="992"/><circle cx="617" cy="968"/><circle cx="710" cy="968"/><circle cx="722" cy="968"/><circle cx="500" cy="980"/><circle cx="512" cy="992"/><circle cx="530" cy="958"/>
</g>
<g id="I8">
<circle cx="662" cy="912"/><circle cx="638" cy="923"/><circle cx="627" cy="935"/><circle cx="645" cy="958"/><circle cx="622" cy="968"/><circle cx="645" cy="968"/><circle cx="617" cy="980"/><circle cx="640" cy="980"/><circle cx="652" cy="980"/><circle cx="628" cy="992"/><circle cx="640" cy="992"/><circle cx="652" cy="992"/><circle cx="700" cy="968"/><circle cx="700" cy="980"/><circle cx="700" cy="990"/><circle cx="683" cy="992"/><circle cx="707" cy="992"/><circle cx="670" cy="1003"/><circle cx="683" cy="1003"/><circle cx="660" cy="1015"/><circle cx="670" cy="1015"/><circle cx="705" cy="1025"/><circle cx="550" cy="968"/><circle cx="563" cy="968"/><circle cx="550" cy="980"/><circle cx="563" cy="980"/><circle cx="575" cy="980"/><circle cx="550" cy="992"/><circle cx="563" cy="992"/><circle cx="575" cy="992"/><circle cx="587" cy="992"/><circle cx="550" cy="1003"/><circle cx="563" cy="1003"/><circle cx="575" cy="1003"/><circle cx="593" cy="1002"/><circle cx="605" cy="1002"/><circle cx="617" cy="1002"/><circle cx="557" cy="1015"/><circle cx="593" cy="1015"/><circle cx="605" cy="1015"/><circle cx="593" cy="1027"/><circle cx="605" cy="1027"/><circle cx="617" cy="1027"/><circle cx="587" cy="1047"/><circle cx="598" cy="1047"/><circle cx="610" cy="1047"/><circle cx="625" cy="1047"/><circle cx="575" cy="1058"/><circle cx="587" cy="1058"/><circle cx="598" cy="1058"/><circle cx="610" cy="1058"/><circle cx="622" cy="1058"/><circle cx="633" cy="1058"/><circle cx="650" cy="1037"/><circle cx="650" cy="1047"/><circle cx="650" cy="1058"/><circle cx="662" cy="1058"/><circle cx="673" cy="1058"/><circle cx="660" cy="1047"/><circle cx="672" cy="1047"/><circle cx="660" cy="1070"/><circle cx="667" cy="1082"/><circle cx="687" cy="1037"/><circle cx="697" cy="1037"/><circle cx="683" cy="1047"/><circle cx="697" cy="1047"/><circle cx="707" cy="1047"/><circle cx="687" cy="1058"/><circle cx="698" cy="1058"/><circle cx="710" cy="1058"/><circle cx="723" cy="1058"/><circle cx="713" cy="1070"/><circle cx="687" cy="1070"/><circle cx="698" cy="1070"/><circle cx="687" cy="1082"/><circle cx="698" cy="1082"/><circle cx="687" cy="1093"/><circle cx="698" cy="1093"/><circle cx="687" cy="1105"/><circle cx="697" cy="1105"/><circle cx="737" cy="1037"/><circle cx="750" cy="1037"/><circle cx="737" cy="1047"/><circle cx="750" cy="1047"/><circle cx="790" cy="1025"/><circle cx="808" cy="968"/><circle cx="828" cy="957"/><circle cx="828" cy="968"/><circle cx="825" cy="992"/><circle cx="838" cy="992"/><circle cx="510" cy="965"/><circle cx="505" cy="978"/><circle cx="527" cy="968"/><circle cx="537" cy="958"/><circle cx="533" cy="990"/><circle cx="543" cy="990"/><circle cx="540" cy="1000"/><circle cx="547" cy="1015"/><circle cx="777" cy="775"/><circle cx="650" cy="910"/><circle cx="612" cy="1037"/>
</g>
<g id="legend">
<rect x="1229" y="476" width="20" height="19" fill="#377EB8"/><text class="lg" x="1270" y="494">I10</text>
<rect x="1229" y="506" width="20" height="19" fill="#E41A1C"/><text class="lg" x="1270" y="524">I12</text>
<rect x="1229" y="536" width="20" height="19" fill="#4DAF4A"/><text class="lg" x="1270" y="554">I11</text>
<rect x="1229" y="566" width="20" height="19" fill="#984EA3"/><text class="lg" x="1270" y="584">I1</text>
<rect x="1229" y="596" width="20" height="19" fill="#FFD92F"/><text class="lg" x="1270" y="614">I2</text>
<rect x="1229" y="626" width="20" height="19" fill="#FF7F00"/><text class="lg" x="1270" y="644">I13</text>
<rect x="1229" y="656" width="20" height="19" fill="#F781BF"/><text class="lg" x="1270" y="674">I3</text>
<rect x="1229" y="686" width="20" height="19" fill="#8DD3C7"/><text class="lg" x="1270" y="704">I4</text>
<rect x="1229" y="716" width="20" height="19" fill="#B3B3B3"/><text class="lg" x="1270" y="734">I14</text>
<rect x="1229" y="746" width="20" height="19" fill="#000000"/><text class="lg" x="1270" y="764">I5</text>
<rect x="1229" y="776" width="20" height="19" fill="#56B4E9"/><text class="lg" x="1270" y="794">I6</text>
<rect x="1229" y="806" width="20" height="19" fill="#BC80BD"/><text class="lg" x="1270" y="824">I15</text>
<rect x="1229" y="836" width="20" height="19" fill="#FDB462"/><text class="lg" x="1270" y="854">I7</text>
<rect x="1229" y="866" width="20" height="19" fill="#380F20"/><text class="lg" x="1270" y="884">I8</text>
</g>
</svg>
